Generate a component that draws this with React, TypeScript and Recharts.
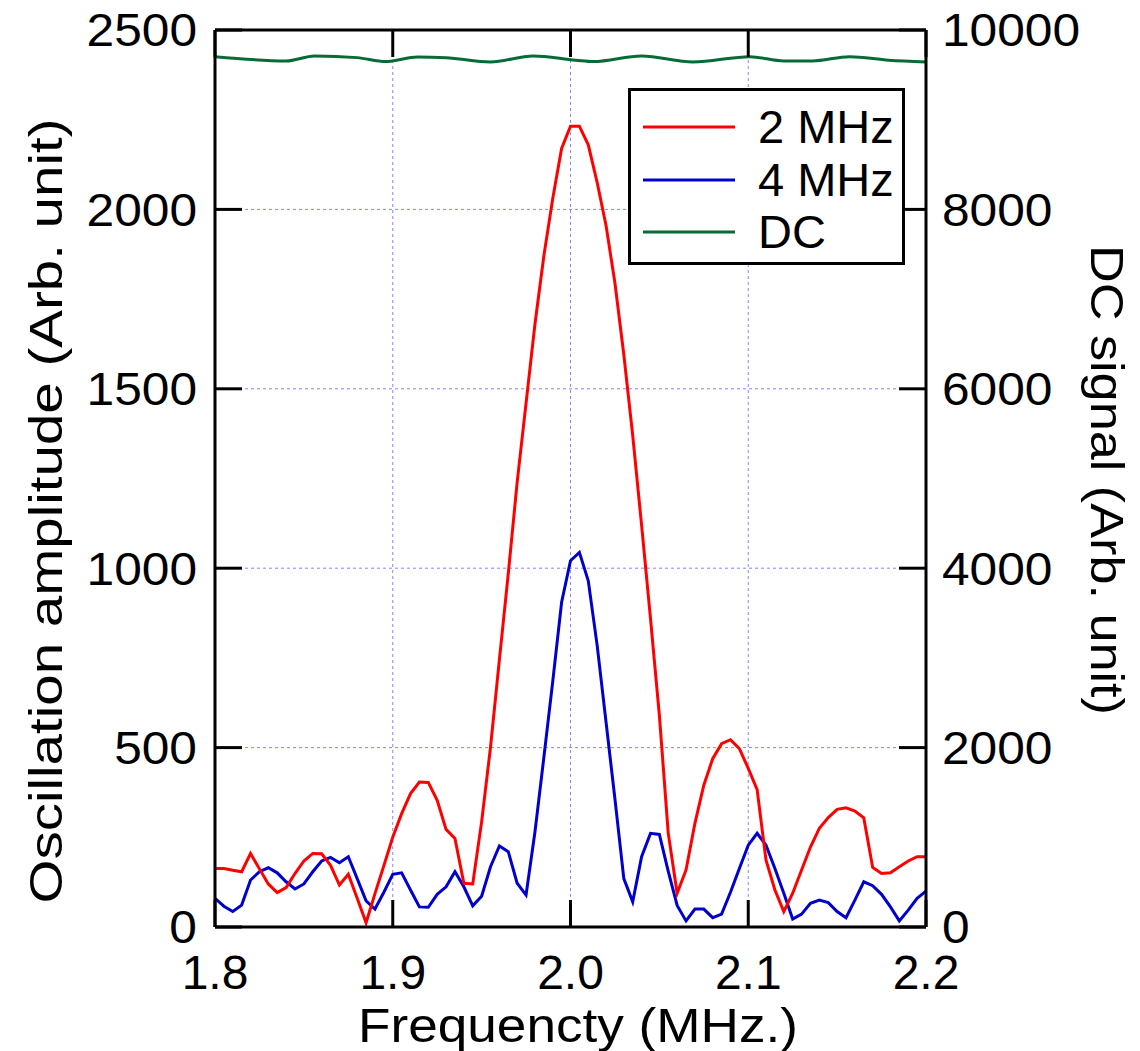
import React from "react";
import {
    LineChart, Line, XAxis, YAxis, CartesianGrid, Legend
} from "recharts";

const FONT = '"Liberation Sans", Arial, sans-serif';

// frequency grid of the lock-in sweep (MHz)
const frequency = [
    1.800, 1.805, 1.810, 1.815, 1.820, 1.825, 1.830, 1.835, 1.840, 1.845,
    1.850, 1.855, 1.860, 1.865, 1.870, 1.875, 1.880, 1.885, 1.890, 1.895,
    1.900, 1.905, 1.910, 1.915, 1.920, 1.925, 1.930, 1.935, 1.940, 1.945,
    1.950, 1.955, 1.960, 1.965, 1.970, 1.975, 1.980, 1.985, 1.990, 1.995,
    2.000, 2.005, 2.010, 2.015, 2.020, 2.025, 2.030, 2.035, 2.040, 2.045,
    2.050, 2.055, 2.060, 2.065, 2.070, 2.075, 2.080, 2.085, 2.090, 2.095,
    2.100, 2.105, 2.110, 2.115, 2.120, 2.125, 2.130, 2.135, 2.140, 2.145,
    2.150, 2.155, 2.160, 2.165, 2.170, 2.175, 2.180, 2.185, 2.190, 2.195,
    2.200,
];

const amp2MHz = [
    163, 163, 158, 154, 205, 162, 120, 96, 110, 149,
    184, 205, 204, 172, 117, 147, 80, 12, 93, 171,
    250, 316, 372, 404, 403, 353, 272, 247, 122, 120,
    293, 501, 745, 985, 1240, 1460, 1680, 1870, 2030, 2170,
    2232, 2232, 2180, 2075, 1955, 1795, 1595, 1370, 1120, 860,
    590, 261, 94, 159, 289, 395, 469, 511, 522, 497,
    442, 383, 186, 103, 43, 94, 159, 223, 275, 305,
    328, 332, 323, 304, 166, 149, 151, 168, 184, 196,
    196,
];

const amp4MHz = [
    80, 58, 43, 61, 131, 154, 165, 151, 126, 106,
    120, 154, 184, 194, 179, 196, 135, 73, 50, 97,
    147, 151, 103, 56, 55, 91, 112, 154, 112, 59,
    86, 168, 226, 210, 122, 89, 265, 472, 684, 905,
    1021, 1044, 965, 785, 571, 357, 135, 70, 196, 261,
    258, 155, 60, 17, 50, 50, 26, 36, 97, 163,
    228, 261, 228, 163, 94, 22, 36, 66, 75, 68,
    43, 26, 75, 126, 115, 91, 56, 17, 47, 80,
    100,
];

// DC signal, read at its turning points
const dcFreq = [
    1.800, 1.840, 1.856, 1.880, 1.896, 1.914, 1.930, 1.955, 1.979, 2.003,
    2.013, 2.040, 2.069, 2.101, 2.120, 2.136, 2.157, 2.179, 2.200,
];
const dcSignal = [
    9703, 9655, 9711, 9692, 9648, 9700, 9692, 9644, 9711, 9663,
    9648, 9711, 9644, 9703, 9655, 9655, 9703, 9663, 9644,
];

const xTicks = [1.8, 1.9, 2.0, 2.1, 2.2];
const ampTicks = [0, 500, 1000, 1500, 2000, 2500];
const dcTicks = [0, 2000, 4000, 6000, 8000, 10000];

const SERIES = [
    { name: "2 MHz", color: "#ff0000" },
    { name: "4 MHz", color: "#0000cc" },
    { name: "DC", color: "#076b38" },
];

const chartData = frequency.map((f, i) => ({ freq: f, a2: amp2MHz[i], a4: amp4MHz[i] }));
const dcData = dcFreq.map((f, i) => ({ freq: f, dc: dcSignal[i] }));

const AXIS_STROKE = { stroke: "#000", strokeWidth: 3 };
const TICK_LINE = { stroke: "#000", strokeWidth: 3 };

// y tick labels in the original are drawn a little wider than the font
function StretchTick(props: any) {
    const { x, y, payload, textAnchor } = props;
    return (
        <g transform={`translate(${x},${y}) scale(1.08,1)`}>
            <text x={0} y={0} dy="0.355em" textAnchor={textAnchor} fontSize={46}
                fontFamily={FONT} fill="#000">{payload.value}</text>
        </g>
    );
}

function renderLegend() {
    return (
        <div style={{
            width: 271, height: 171, border: "3px solid #000", background: "#fff",
            position: "relative", fontFamily: FONT,
        }}>
            {SERIES.map((s, i) => (
                <div key={s.name} style={{
                    position: "absolute", left: 12, top: 10 + i * 52.5, height: 52,
                    display: "flex", alignItems: "center",
                }}>
                    <svg width={92} height={6} style={{ display: "block" }}>
                        <line x1={0} y1={3} x2={92} y2={3} stroke={s.color} strokeWidth={3} />
                    </svg>
                    <span style={{ marginLeft: 23, fontSize: 47, lineHeight: "52px", color: "#000" }}>{s.name}</span>
                </div>
            ))}
        </div>
    );
}

const leftTitle = () => (
    <text x={45} y={511} transform="rotate(-90 45 511)" textAnchor="middle" dominantBaseline="central"
        fontFamily={FONT} fontSize={47} fill="#000" textLength={785} lengthAdjust="spacingAndGlyphs">
        Oscillation amplitude (Arb. unit)
    </text>
);

const rightTitle = () => (
    <text x={1107} y={480} transform="rotate(90 1107 480)" textAnchor="middle" dominantBaseline="central"
        fontFamily={FONT} fontSize={47} fill="#000" textLength={470} lengthAdjust="spacingAndGlyphs">
        DC signal (Arb. unit)
    </text>
);

const bottomTitle = () => (
    <text x={578} y={1025} textAnchor="middle" dominantBaseline="central"
        fontFamily={FONT} fontSize={48} fill="#000" textLength={440} lengthAdjust="spacingAndGlyphs">
        Frequencty (MHz.)
    </text>
);

export default function App() {
    return (
        <div style={{ position: "absolute", left: 0, top: 0, background: "#fff" }}>
            <LineChart width={1140} height={1051} data={chartData}
                margin={{ top: 0, right: 0, left: 0, bottom: 0 }}>
                <CartesianGrid xAxisId="bottom" yAxisId="left" stroke="#8585ff" strokeDasharray="3 3"
                    strokeWidth={1} />
                <XAxis xAxisId="bottom" dataKey="freq" type="number" domain={[1.8, 2.2]} ticks={xTicks}
                    allowDataOverflow height={124} axisLine={AXIS_STROKE} tickLine={TICK_LINE}
                    tickSize={-27} tickMargin={55} interval={0}
                    tickFormatter={(v: number) => v.toFixed(1)}
                    tick={{ fontSize: 48, fill: "#000", fontFamily: FONT }}
                    label={{ content: bottomTitle }} />
                <XAxis xAxisId="top" orientation="top" dataKey="freq" type="number" domain={[1.8, 2.2]}
                    ticks={xTicks} allowDataOverflow height={30} axisLine={AXIS_STROKE} tickLine={TICK_LINE}
                    tickSize={-27} tickFormatter={() => ""} />
                <YAxis yAxisId="left" type="number" domain={[0, 2500]} ticks={ampTicks} width={215}
                    axisLine={AXIS_STROKE} tickLine={TICK_LINE} tickSize={-27} tickMargin={45} interval={0}
                    tick={<StretchTick />}
                    label={{ content: leftTitle }} />
                <YAxis yAxisId="right" orientation="right" type="number" domain={[0, 10000]} ticks={dcTicks}
                    width={214} axisLine={AXIS_STROKE} tickLine={TICK_LINE} tickSize={-27} tickMargin={43}
                    interval={0} tick={<StretchTick />}
                    label={{ content: rightTitle }} />
                <Legend layout="vertical" align="center" verticalAlign="middle" content={renderLegend}
                    wrapperStyle={{ left: 628, top: 88, width: 277, height: 177 }} />
                <Line xAxisId="bottom" yAxisId="right" data={dcData} dataKey="dc" name="DC" type="monotone"
                    stroke={SERIES[2].color} strokeWidth={3} dot={false} isAnimationActive={false} />
                <Line xAxisId="bottom" yAxisId="left" dataKey="a4" name="4 MHz" type="linear"
                    stroke={SERIES[1].color} strokeWidth={3} dot={false} isAnimationActive={false} />
                <Line xAxisId="bottom" yAxisId="left" dataKey="a2" name="2 MHz" type="linear"
                    stroke={SERIES[0].color} strokeWidth={3} dot={false} isAnimationActive={false} />
            </LineChart>
        </div>
    );
}
